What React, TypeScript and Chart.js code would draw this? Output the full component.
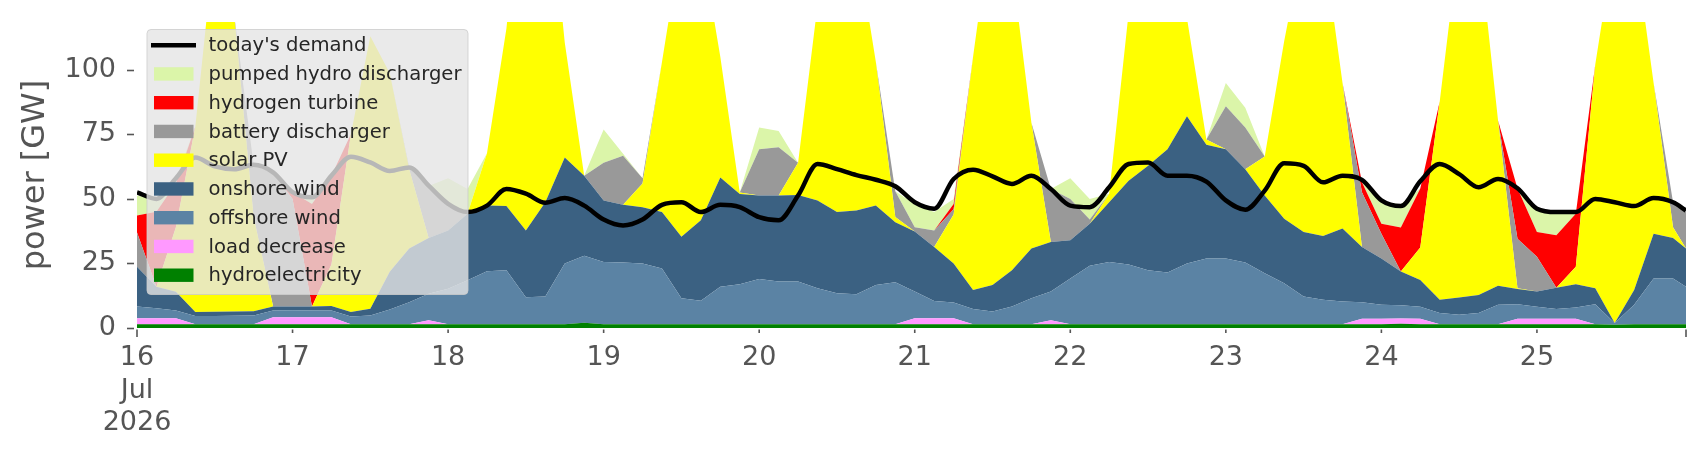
import React, { useEffect, useRef } from "react";
import { Chart, registerables } from "chart.js";

Chart.register(...registerables);

// hours since 16 Jul 2026 00:00
const hours = [
  0, 3, 6, 9, 12, 15, 18, 21, 24, 27, 30, 33, 36, 39, 42, 45, 48, 51, 54, 57,
  60, 63, 66, 69, 72, 75, 78, 81, 84, 87, 90, 93, 96, 99, 102, 105, 108, 111, 114, 117,
  120, 123, 126, 129, 132, 135, 138, 141, 144, 147, 150, 153, 156, 159, 162, 165, 168, 171, 174, 177,
  180, 183, 186, 189, 192, 195, 198, 201, 204, 207, 210, 213, 216, 219, 222, 225, 228, 231, 234, 237, 239,
];

const hydroelectricity = [
  1.5, 1.5, 1.5, 1.5, 1.5, 1.5, 1.5, 1.5, 1.5, 1.5, 1.5, 1.5, 1.5, 1.5, 1.5, 1.5, 1.5, 1.5, 1.5, 1.5,
  1.5, 1.5, 1.5, 2.0, 1.5, 1.5, 1.5, 1.5, 1.5, 1.5, 1.5, 1.5, 1.5, 1.5, 1.5, 1.5, 1.5, 1.5, 1.5, 1.5,
  1.5, 1.5, 1.5, 1.5, 1.5, 1.5, 1.5, 1.5, 1.5, 1.5, 1.5, 1.5, 1.5, 1.5, 1.5, 1.5, 1.5, 1.5, 1.5, 1.5,
  1.5, 1.5, 1.5, 1.5, 1.5, 1.6, 1.5, 1.5, 1.5, 1.5, 1.5, 1.5, 1.5, 1.5, 1.5, 1.5, 1.3, 1.5, 1.5, 1.5, 1.5,
];

const loadDecrease = [
  2.3, 2.3, 2.3, 0, 0, 0, 0, 2.7, 2.7, 2.7, 2.7, 0, 0, 0, 0, 1.5, 0, 0, 0, 0,
  0, 0, 0, 0, 0, 0, 0, 0, 0, 0, 0, 0, 0, 0, 0, 0, 0, 0, 0, 0,
  2.3, 2.3, 2.3, 0, 0, 0, 0, 1.5, 0, 0, 0, 0, 0, 0, 0, 0, 0, 0, 0, 0,
  0, 0, 0, 2.1, 2.1, 2.1, 2.1, 0, 0, 0, 0, 2.1, 2.1, 2.1, 2.1, 0, 0, 0, 0, 0, 0,
];

const offshoreWind = [
  4.5, 3.8, 3.0, 3.1, 3.1, 3.2, 3.3, 2.6, 2.7, 2.6, 2.6, 3.0, 3.3, 5.7, 8.5, 10.3, 13.7, 17.0, 20.5, 20.9,
  10.4, 10.7, 23.5, 26.0, 24.1, 23.9, 23.5, 21.5, 10.0, 9.1, 14.5, 15.4, 17.5, 16.5, 16.5, 13.9, 12.0, 11.6, 15.2, 16.2,
  10.3, 6.7, 6.1, 5.9, 4.9, 6.8, 10.0, 11.1, 17.7, 22.6, 24.1, 23.1, 20.9, 20.0, 23.5, 25.4, 25.4, 23.9, 19.7, 15.8,
  10.7, 9.4, 8.8, 6.4, 5.4, 5.1, 4.6, 4.3, 3.6, 4.3, 7.5, 5.6, 4.6, 3.8, 4.3, 7.7, 0.6, 7.5, 17.7, 17.7, 14.5,
];

const onshoreWind = [
  15.4, 8.4, 7.2, 1.6, 1.7, 1.7, 1.7, 1.5, 1.4, 1.5, 1.7, 1.7, 2.7, 14.6, 20.8, 21.6, 22.6, 25.7, 25.4, 24.8,
  25.9, 36.5, 41.0, 31.0, 23.8, 22.3, 21.8, 21.9, 23.8, 31.1, 42.3, 35.0, 32.3, 33.3, 33.5, 34.0, 31.4, 32.4, 30.7, 23.3,
  23.3, 20.9, 15.1, 7.3, 10.3, 14.1, 19.3, 19.2, 14.8, 16.3, 23.1, 32.4, 40.4, 47.7, 57.0, 44.1, 42.3, 36.1, 30.1, 25.0,
  25.0, 24.7, 28.2, 21.4, 17.9, 13.1, 10.4, 5.1, 6.7, 7.0, 7.4, 5.9, 5.9, 8.2, 9.0, 6.2, 0, 5.7, 17.3, 15.7, 14.8,
];

const solarPV = [
  0, 0, 25.0, 71.8, 143.7, 114.6, 36.5, 0, 0, 0, 16.1, 68.8, 105.5, 76.9, 30.7, 0, 0, 0, 20.3, 68.8,
  152.2, 136.3, 44.6, 0, 0, 0, 9.2, 58.1, 114.7, 108.3, 46.7, 0.6, 0, 0, 12.5, 75.6, 105.1, 104.5, 55.6, 2.0,
  0, 0, 19.0, 90.3, 143.3, 117.6, 48.7, 0, 0, 0, 3.3, 65.0, 87.2, 80.8, 38.0, 2.0, 0, 0, 15.1, 68.7,
  112.8, 114.4, 56.5, 0, 0, 0, 12.6, 76.8, 138.2, 137.2, 64.0, 0.3, 0, 0, 6.8, 86.6, 148.1, 135.3, 58.4, 4.1, 0,
];

const batteryDischarger = [
  13.3, 0, 0, 0, 0, 0, 20.0, 51.7, 41.7, 0, 0, 0, 0, 0, 0.7, 20.1, 9.2, 0, 0, 0,
  0, 0, 0, 0, 14.6, 19.0, 2.0, 0, 0, 0, 0, 0, 17.9, 18.7, 0, 0, 0, 0, 0, 10.0,
  1.6, 6.4, 2.0, 0, 0, 0, 0, 20.5, 16.0, 1.6, 0, 0, 0, 0, 0, 0, 16.7, 16.1, 0, 0,
  0, 0, 0, 21.2, 9.6, 0, 0, 0, 0, 0, 0, 19.2, 13.5, 0, 0, 0, 0, 0, 0, 9.7, 14.1,
];

const hydrogenTurbine = [
  6.6, 29.0, 17.0, 0, 0, 0, 0, 0, 2.6, 39.7, 34.4, 0, 0, 0, 0, 0, 0, 0, 0, 0,
  0, 0, 0, 0, 0, 0, 0, 0, 0, 0, 0, 0, 0, 0, 0, 0, 0, 0, 0, 0,
  0, 0, 2.0, 0, 0, 0, 0, 0, 0, 0, 0, 0, 0, 0, 0, 0, 0, 0, 0, 0,
  0, 0, 0, 3.8, 3.9, 17.0, 22.8, 0, 0, 0, 0, 19.4, 9.6, 20.3, 20.5, 0, 0, 0, 0, 0, 0,
];

const pumpedHydroDischarger = [
  7.7, 5.0, 1.5, 0, 0, 0, 0, 0, 0, 2.6, 0, 0, 0, 0, 0, 0, 11.0, 9.6, 0, 0,
  0, 0, 0, 0, 12.9, 0.8, 0, 0, 0, 0, 0, 0, 8.4, 6.3, 0, 0, 0, 0, 0, 0,
  9.0, 7.1, 2.0, 0, 0, 0, 0, 0, 8.0, 8.0, 0, 0, 0, 0, 0, 0, 9.0, 7.7, 0, 0,
  0, 0, 0, 0, 8.3, 9.0, 0, 0, 0, 0, 0, 0, 9.0, 8.3, 0, 0, 0, 0, 0, 0, 0,
];

const todaysDemand = [
  52.5, 50.0, 58.0, 66.0, 62.6, 61.5, 63.2, 60.3, 52.6, 50.6, 59.0, 66.3, 64.1, 60.8, 62.2, 55.1, 48.1, 44.9, 47.4, 53.8,
  52.0, 48.5, 50.3, 47.4, 42.0, 39.7, 42.0, 47.7, 48.7, 44.9, 47.7, 46.8, 42.9, 41.7, 51.3, 63.5, 61.5, 59.2, 57.4, 54.9,
  48.7, 46.2, 57.7, 61.3, 58.7, 55.8, 59.0, 53.8, 47.4, 46.8, 54.5, 63.5, 64.1, 59.0, 59.0, 56.7, 49.4, 45.8, 53.2, 63.8,
  62.8, 56.4, 59.0, 57.4, 49.4, 47.2, 56.8, 63.5, 59.6, 54.5, 57.7, 54.1, 46.2, 44.9, 44.9, 50.0, 48.7, 47.2, 50.3, 48.7, 45.5,
];

const dayTicks = [0, 24, 48, 72, 96, 120, 144, 168, 192, 216];
const dayLabels: (string | string[])[] = [["16", "Jul", "2026"], "17", "18", "19", "20", "21", "22", "23", "24", "25"];
const endTick = 239;
const yTicks = [0, 25, 50, 75, 100];

const FONT = "'DejaVu Sans', 'Noto Sans', sans-serif";
const AXIS_GREY = "#555555";

export default function App() {
  const ref = useRef<HTMLCanvasElement>(null);

  useEffect(() => {
    if (!ref.current) return;
    const series = [
      { label: "hydroelectricity", data: hydroelectricity, color: "#008000" },
      { label: "load decrease", data: loadDecrease, color: "#ff99ff" },
      { label: "offshore wind", data: offshoreWind, color: "#5b83a4" },
      { label: "onshore wind", data: onshoreWind, color: "#3b6182" },
      { label: "solar PV", data: solarPV, color: "#ffff00" },
      { label: "battery discharger", data: batteryDischarger, color: "#999999" },
      { label: "hydrogen turbine", data: hydrogenTurbine, color: "#ff0000" },
      { label: "pumped hydro discharger", data: pumpedHydroDischarger, color: "#dbf5a9" },
    ];
    const pts = (arr: number[]) => hours.map((h, i) => ({ x: h, y: arr[i] }));

    const datasets: any[] = series.map((s, i) => ({
      type: "line",
      label: s.label,
      data: pts(s.data),
      backgroundColor: s.color,
      borderColor: s.color,
      borderWidth: 0,
      pointRadius: 0,
      fill: i === 0 ? "origin" : "-1",
      stack: "supply",
      tension: 0,
      order: 1,
    }));
    datasets.push({
      type: "line",
      label: "today's demand",
      data: pts(todaysDemand),
      borderColor: "#000000",
      backgroundColor: "#000000",
      borderWidth: 4.5,
      pointRadius: 0,
      fill: false,
      stack: "demand",
      cubicInterpolationMode: "monotone",
      order: 0,
    });

    const overlay = {
      id: "overlay",
      afterDraw(chart: any) {
        const ctx = chart.ctx;
        const xs = chart.scales.x;
        const ys = chart.scales.y;
        const area = chart.chartArea;
        ctx.save();
        // tick marks
        ctx.strokeStyle = AXIS_GREY;
        ctx.lineWidth = 1.6;
        yTicks.forEach((v) => {
          const y = Math.round(ys.getPixelForValue(v)) + 0.5;
          ctx.beginPath();
          ctx.moveTo(area.left - 10, y);
          ctx.lineTo(area.left - 3, y);
          ctx.stroke();
        });
        [...dayTicks, endTick].forEach((v, i) => {
          const x = xs.getPixelForValue(v);
          const long = i === 0 || v === endTick;
          ctx.beginPath();
          ctx.moveTo(x, area.bottom + 1.5);
          ctx.lineTo(x, area.bottom + (long ? 9 : 5));
          ctx.stroke();
        });

        // legend
        const bx = 147, by = 29.5, bw = 321, bh = 265, r = 4;
        ctx.globalAlpha = 0.8;
        ctx.beginPath();
        ctx.moveTo(bx + r, by);
        ctx.lineTo(bx + bw - r, by);
        ctx.quadraticCurveTo(bx + bw, by, bx + bw, by + r);
        ctx.lineTo(bx + bw, by + bh - r);
        ctx.quadraticCurveTo(bx + bw, by + bh, bx + bw - r, by + bh);
        ctx.lineTo(bx + r, by + bh);
        ctx.quadraticCurveTo(bx, by + bh, bx, by + bh - r);
        ctx.lineTo(bx, by + r);
        ctx.quadraticCurveTo(bx, by, bx + r, by);
        ctx.closePath();
        ctx.fillStyle = "#e5e5e5";
        ctx.fill();
        ctx.strokeStyle = "#cccccc";
        ctx.lineWidth = 1;
        ctx.stroke();
        ctx.globalAlpha = 1;

        const ds = chart.data.datasets;
        const entries = [ds[ds.length - 1], ...ds.slice(0, ds.length - 1).reverse()];
        ctx.font = `19.6px ${FONT}`;
        ctx.textBaseline = "middle";
        ctx.textAlign = "left";
        entries.forEach((d: any, i: number) => {
          const cy = 45.2 + i * 28.75;
          if (i === 0) {
            ctx.strokeStyle = d.borderColor;
            ctx.lineWidth = 4.5;
            ctx.beginPath();
            ctx.moveTo(151, cy);
            ctx.lineTo(196, cy);
            ctx.stroke();
          } else {
            ctx.fillStyle = d.backgroundColor;
            ctx.fillRect(154, cy - 6.7, 39.5, 13.4);
          }
          ctx.fillStyle = "#262626";
          ctx.fillText(d.label, 208.5, cy + 1);
        });
        ctx.restore();
      },
    };

    const chart = new Chart(ref.current, {
      type: "line",
      data: { datasets },
      plugins: [overlay],
      options: {
        animation: false,
        responsive: false,
        events: [],
        layout: { padding: { top: 22, right: 20, left: 0, bottom: 0 } },
        plugins: { legend: { display: false }, tooltip: { enabled: false } },
        elements: { line: { borderJoinStyle: "round" } },
        scales: {
          x: {
            type: "linear",
            min: 0,
            max: endTick,
            grid: { display: false, drawTicks: false },
            border: { display: false },
            afterBuildTicks: (scale: any) => {
              scale.ticks = [...dayTicks, endTick].map((v) => ({ value: v }));
            },
            afterFit: (scale: any) => {
              scale.height = 132;
              scale.paddingLeft = 0;
              scale.paddingRight = 0;
            },
            ticks: {
              autoSkip: false,
              maxRotation: 0,
              minRotation: 0,
              padding: 14,
              color: AXIS_GREY,
              font: { family: FONT, size: 27, lineHeight: 1.2 },
              callback: (value: any) => {
                const idx = dayTicks.indexOf(Number(value));
                return idx >= 0 ? dayLabels[idx] : "";
              },
            },
          },
          y: {
            stacked: true,
            min: 0,
            max: 118.5,
            grid: { display: false, drawTicks: false },
            border: { display: false },
            afterBuildTicks: (scale: any) => {
              scale.ticks = yTicks.map((v) => ({ value: v }));
            },
            afterFit: (scale: any) => {
              scale.width = 137;
              scale.paddingTop = 0;
              scale.paddingBottom = 0;
            },
            ticks: {
              padding: 21,
              color: AXIS_GREY,
              font: { family: FONT, size: 27 },
            },
            title: {
              display: true,
              text: "power [GW]",
              color: AXIS_GREY,
              font: { family: FONT, size: 32, lineHeight: 1.2 },
              padding: { top: 16, bottom: 0 },
            },
          },
        },
      } as any,
    });
    return () => chart.destroy();
  }, []);

  return (
    <div style={{ position: "fixed", left: 0, top: 0, width: 1706, height: 460, background: "#ffffff" }}>
      <canvas ref={ref} width={1706} height={460} style={{ display: "block", width: 1706, height: 460 }} />
    </div>
  );
}
